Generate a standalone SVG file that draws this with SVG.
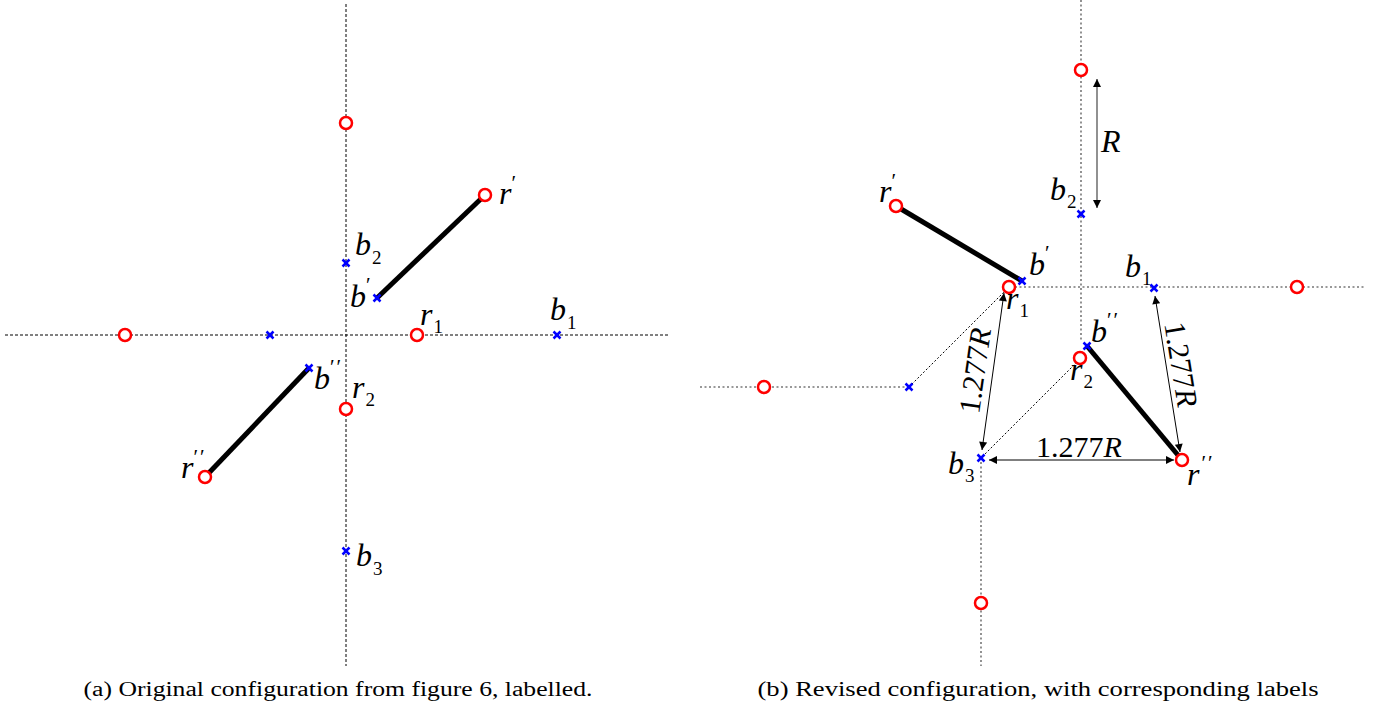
<svg xmlns="http://www.w3.org/2000/svg" width="1380" height="706" viewBox="0 0 1380 706">
<defs>
<style>
.axA{stroke:#000;stroke-width:1;stroke-dasharray:3,2;fill:none}
.axB{stroke:#777;stroke-width:1.6;stroke-dasharray:2,2.5;fill:none}
.dg{stroke:#000;stroke-width:1;stroke-dasharray:2,2;fill:none}
.rod{stroke:#000;stroke-width:5;stroke-linecap:butt}
.rc{fill:#fff;stroke:#f00;stroke-width:2.5}
.bx{stroke:#00f;stroke-width:2.5;stroke-linecap:butt}
text{font-family:'Liberation Serif','Times New Roman',Times,serif}
.lb{font-style:italic;font-size:32px;fill:#000}
.sb{font-style:normal;font-size:19px}
.pr{font-style:normal;font-size:21px;letter-spacing:2px}
.dim{font-size:30px;fill:#000}
.cap{font-size:20px;fill:#000}
.ar{stroke:#000;stroke-width:1;fill:none}
</style>
<marker id="ah" viewBox="0 0 10 10" refX="10" refY="5" markerWidth="10" markerHeight="8" markerUnits="userSpaceOnUse" orient="auto-start-reverse">
<path d="M0,0 L10,5 L0,10 z" fill="#000"/>
</marker>
<g id="cross"><line class="bx" x1="-3.5" y1="-3.5" x2="3.5" y2="3.5"/><line class="bx" x1="-3.5" y1="3.5" x2="3.5" y2="-3.5"/></g>
</defs>
<rect width="1380" height="706" fill="#fff"/>

<g id="connectors">
<line class="axA" x1="346" y1="4" x2="346" y2="666"/>
<line class="axA" x1="5" y1="335" x2="670" y2="335"/>
<line class="rod" x1="377" y1="298" x2="485" y2="195"/>
<line class="rod" x1="309" y1="368" x2="205" y2="477"/>
<line class="axB" x1="1081" y1="0" x2="1081" y2="342"/>
<line class="axB" x1="1015" y1="287" x2="1366" y2="287"/>
<line class="axB" x1="700" y1="387" x2="909" y2="387"/>
<line class="axB" x1="981" y1="462" x2="981" y2="666"/>
<line class="dg" x1="909" y1="387" x2="1005" y2="291"/>
<line class="dg" x1="1077" y1="362" x2="984" y2="455"/>
<line class="rod" x1="896" y1="206" x2="1022" y2="281"/>
<line class="rod" x1="1087" y1="346" x2="1182" y2="460"/>
<line x1="1097" y1="79" x2="1097" y2="208" stroke="#555" stroke-width="1.3" marker-start="url(#ah)" marker-end="url(#ah)"/>
<line class="ar" x1="1004" y1="293" x2="982" y2="450" marker-start="url(#ah)" marker-end="url(#ah)"/>
<line class="ar" x1="1155" y1="296" x2="1180" y2="452" marker-start="url(#ah)" marker-end="url(#ah)"/>
<line class="ar" x1="989" y1="460" x2="1174" y2="460" marker-start="url(#ah)" marker-end="url(#ah)"/>
</g>

<g id="a_r_top"><circle class="rc" cx="346" cy="123" r="6"/></g>
<g id="a_r_left"><circle class="rc" cx="125" cy="335" r="6"/></g>
<g id="a_b_left"><use href="#cross" x="270" y="335"/></g>
<g id="a_r1"><circle class="rc" cx="417" cy="335" r="6"/><text class="lb" x="420" y="325">r<tspan class="sb" dx="1" dy="8">1</tspan></text></g>
<g id="a_b1"><use href="#cross" x="557" y="335"/><text class="lb" x="550" y="320">b<tspan class="sb" dx="1" dy="9">1</tspan></text></g>
<g id="a_b2"><use href="#cross" x="346" y="263"/><text class="lb" x="355" y="255">b<tspan class="sb" dx="1" dy="9">2</tspan></text></g>
<g id="a_bp"><use href="#cross" x="377" y="298"/><text class="lb" x="350" y="307">b<tspan class="pr" dx="0" dy="-15">′</tspan></text></g>
<g id="a_rp"><circle class="rc" cx="485" cy="195" r="6"/><text class="lb" x="499" y="204">r<tspan class="pr" dx="0" dy="-14">′</tspan></text></g>
<g id="a_bpp"><use href="#cross" x="309" y="368"/><text class="lb" x="314" y="389">b<tspan class="pr" dx="0" dy="-15">′′</tspan></text></g>
<g id="a_r2"><circle class="rc" cx="346" cy="409" r="6"/><text class="lb" x="352" y="398">r<tspan class="sb" dx="1" dy="8">2</tspan></text></g>
<g id="a_rpp"><circle class="rc" cx="205" cy="477" r="6"/><text class="lb" x="181" y="478">r<tspan class="pr" dx="0" dy="-14">′′</tspan></text></g>
<g id="a_b3"><use href="#cross" x="346" y="551"/><text class="lb" x="356" y="566">b<tspan class="sb" dx="1" dy="9">3</tspan></text></g>

<g id="b_r_top"><circle class="rc" cx="1081" cy="70" r="6"/></g>
<g id="b_b2"><use href="#cross" x="1081" y="214"/><text class="lb" x="1050" y="200">b<tspan class="sb" dx="1" dy="8">2</tspan></text></g>
<g id="b_rp"><circle class="rc" cx="896" cy="206" r="6"/><text class="lb" x="879" y="202">r<tspan class="pr" dx="0" dy="-14">′</tspan></text></g>
<g id="b_bp"><use href="#cross" x="1022" y="281"/><text class="lb" x="1029" y="275">b<tspan class="pr" dx="0" dy="-15">′</tspan></text></g>
<g id="b_r1"><circle class="rc" cx="1009" cy="287" r="6"/><text class="lb" x="1006" y="309">r<tspan class="sb" dx="1" dy="8">1</tspan></text></g>
<g id="b_b1"><use href="#cross" x="1154" y="288"/><text class="lb" x="1125" y="277">b<tspan class="sb" dx="1" dy="8">1</tspan></text></g>
<g id="b_r_right"><circle class="rc" cx="1297" cy="287" r="6"/></g>
<g id="b_r_left"><circle class="rc" cx="764" cy="387" r="6"/></g>
<g id="b_b_left"><use href="#cross" x="909" y="387"/></g>
<g id="b_bpp"><use href="#cross" x="1087" y="346"/><text class="lb" x="1091" y="342">b<tspan class="pr" dx="0" dy="-15">′′</tspan></text></g>
<g id="b_r2"><circle class="rc" cx="1080" cy="358" r="6"/><text class="lb" x="1070" y="380">r<tspan class="sb" dx="1" dy="8">2</tspan></text></g>
<g id="b_b3"><use href="#cross" x="981" y="458"/><text class="lb" x="948" y="474">b<tspan class="sb" dx="1" dy="8">3</tspan></text></g>
<g id="b_rpp"><circle class="rc" cx="1182" cy="460" r="6"/><text class="lb" x="1187" y="485">r<tspan class="pr" dx="2" dy="-15">′′</tspan></text></g>
<g id="b_r_bottom"><circle class="rc" cx="981" cy="603" r="6"/></g>

<g id="dimlabels">
<text class="lb" x="1101" y="152">R</text>
<text class="dim" x="1079" y="457" text-anchor="middle">1.277<tspan font-style="italic">R</tspan></text>
<text class="dim" x="985" y="372" text-anchor="middle" transform="rotate(-81.8 985 372)">1.277<tspan font-style="italic">R</tspan></text>
<text class="dim" x="1171" y="366" text-anchor="middle" transform="rotate(80.8 1171 366)">1.277<tspan font-style="italic">R</tspan></text>
</g>

<g id="captions">
<text class="cap" x="338" y="696" text-anchor="middle" textLength="509" lengthAdjust="spacingAndGlyphs">(a) Original configuration from figure 6, labelled.</text>
<text class="cap" x="1038" y="696" text-anchor="middle" textLength="561" lengthAdjust="spacingAndGlyphs">(b) Revised configuration, with corresponding labels</text>
</g>
</svg>
